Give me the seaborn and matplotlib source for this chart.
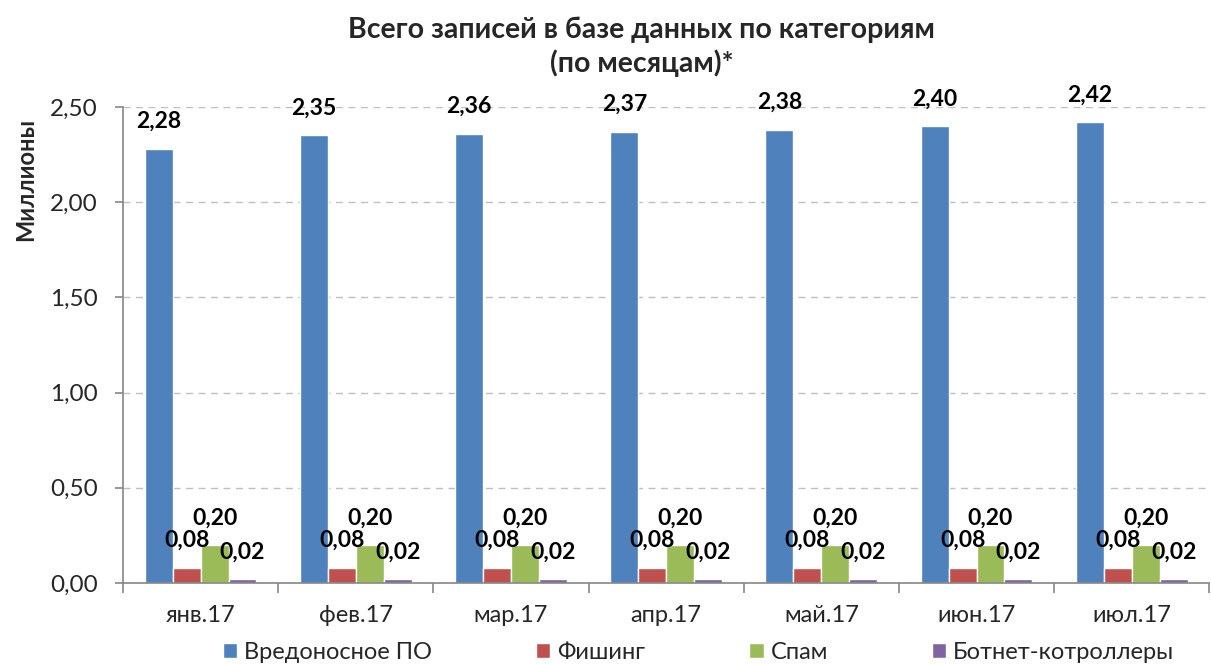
import numpy as np
import pandas as pd
import matplotlib
matplotlib.use("Agg")
import matplotlib.pyplot as plt
from matplotlib.ticker import FuncFormatter, FixedLocator
import seaborn as sns

# data, millions of records per category
months = ["янв.17", "фев.17", "мар.17", "апр.17", "май.17", "июн.17", "июл.17"]
categories = ["Вредоносное ПО", "Фишинг", "Спам", "Ботнет-котроллеры"]
malware = [2.28, 2.35, 2.36, 2.37, 2.38, 2.40, 2.42]
phishing = [0.08, 0.08, 0.08, 0.08, 0.08, 0.08, 0.08]
spam = [0.20, 0.20, 0.20, 0.20, 0.20, 0.20, 0.20]
botnet = [0.02, 0.02, 0.02, 0.02, 0.02, 0.02, 0.02]
colors = ["#4F81BD", "#C0504D", "#9BBB59", "#8064A2"]

rows = []
for cat, vals in zip(categories, [malware, phishing, spam, botnet]):
    for m, v in zip(months, vals):
        rows.append({"month": m, "category": cat, "value": v})
df = pd.DataFrame(rows)

sns.set_theme(style="white")
plt.rcParams['font.family'] = ['Lato', 'Open Sans', 'DejaVu Sans']

fig = plt.figure(figsize=(12.11, 6.64), dpi=100)
ax = fig.add_axes([0.1016, 0.122, 0.897, 0.717])

sns.barplot(data=df, x="month", y="value", hue="category", palette=colors,
            width=0.72, gap=0, saturation=1, errorbar=None, ax=ax, legend=True)

def fmt(v):
    return f"{v:.2f}".replace(".", ",")

for cont in ax.containers:
    ax.bar_label(cont, labels=[fmt(b.get_height()) for b in cont],
                 padding=12, fontsize=16.5, fontweight="bold", color="black")

ax.set_ylim(0, 2.5)
ax.set_xlim(-0.5, 6.5)
ax.yaxis.set_major_locator(FixedLocator(np.arange(0, 2.51, 0.5)))
ax.yaxis.set_major_formatter(FuncFormatter(lambda v, p: fmt(v)))
ax.grid(axis="y", color="#BFBFBF", linestyle=(0, (5, 4)), linewidth=1)
ax.set_axisbelow(True)

for s in ["top", "right"]:
    ax.spines[s].set_visible(False)
for s in ["left", "bottom"]:
    ax.spines[s].set_color("#868686")
    ax.spines[s].set_linewidth(1.2)

ax.tick_params(axis="y", which="major", left=True, length=6, width=1.2,
               color="#868686", labelsize=17.5, pad=12)
ax.tick_params(axis="x", which="major", bottom=False, labelsize=17, pad=10)
ax.set_xticks(np.arange(-0.5, 6.6, 1), minor=True)
ax.tick_params(axis="x", which="minor", bottom=True, length=7, width=1.2,
               color="#868686")
ax.set_xlabel("")
ax.set_ylabel("")

fig.text(0.021, 0.73, "Миллионы", rotation=90, ha="center", va="center",
         fontsize=17, fontweight="bold")
fig.text(0.53, 0.955, "Всего записей в базе данных по категориям", ha="center",
         va="center", fontsize=20.5, fontweight="bold")
fig.text(0.53, 0.905, "(по месяцам)*", ha="center", va="center",
         fontsize=20.5, fontweight="bold")

ax.legend(loc="lower center", bbox_to_anchor=(0.577, -0.016),
          bbox_transform=fig.transFigure, ncol=4, frameon=False, fontsize=17,
          handlelength=0.6, handleheight=0.6, handletextpad=0.3,
          columnspacing=4.4, borderpad=0)

fig.savefig("out.png", dpi=100)
